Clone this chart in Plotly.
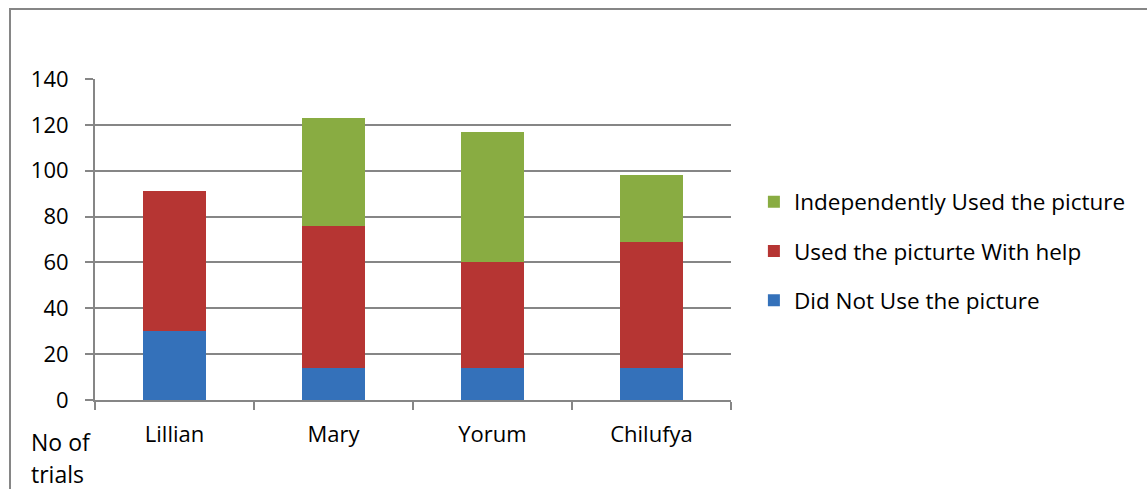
import plotly.graph_objects as go

students = ["Lillian", "Mary", "Yorum", "Chilufya"]
did_not_use = [30, 14, 14, 14]
used_with_help = [61, 62, 46, 55]
independently_used = [0, 47, 57, 29]

series_names = ["Did Not Use the picture", "Used the picturte With help", "Independently Used the picture"]
series_values = [did_not_use, used_with_help, independently_used]
series_colors = ["#3471BA", "#B63533", "#89AC42"]
legend_ranks = [3000, 2000, 1000]

FONT = "Open Sans, Noto Sans, sans-serif"
FS = 22

fig = go.Figure()
for name, vals, col, rank in zip(series_names, series_values, series_colors, legend_ranks):
    fig.add_trace(go.Bar(
        x=students, y=vals, name=name,
        marker=dict(color=col, line=dict(width=0)),
        width=0.4, legendgroup=name, legendrank=rank,
    ))

fig.update_layout(
    barmode="stack",
    width=1147, height=489,
    margin=dict(l=95, r=416, t=79, b=89),
    paper_bgcolor="white", plot_bgcolor="white",
    font=dict(family=FONT, size=FS, color="#000000"),
    showlegend=True,
    legend=dict(
        x=1.036, y=0.464, xanchor="left", yanchor="middle",
        traceorder="grouped", tracegroupgap=17,
        font=dict(size=FS + 0.5), itemwidth=30,
    ),
    xaxis=dict(
        showgrid=False, showline=True, linecolor="#868686", linewidth=2,
        ticks="outside", tickson="boundaries", ticklen=8, tickcolor="#868686", tickwidth=2,
        tickfont=dict(size=FS), ticklabelstandoff=14,
    ),
    yaxis=dict(
        range=[0, 140], dtick=20, showgrid=True, gridcolor="#868686", gridwidth=2,
        showline=True, linecolor="#868686", linewidth=2,
        ticks="outside", ticklen=8, tickcolor="#868686", tickwidth=2,
        tickfont=dict(size=FS), zeroline=False, ticklabelstandoff=12,
    ),
    shapes=[dict(
        type="rect", xref="paper", yref="paper",
        x0=-85/636, x1=(1160-95)/636, y0=-(500-400)/321, y1=(400-9)/321,
        line=dict(color="#868686", width=2), fillcolor="rgba(0,0,0,0)", layer="below",
    )],
    annotations=[
        dict(text="No of", xref="paper", yref="paper",
             x=-66/636, y=-(442-400)/321, xanchor="left", yanchor="middle",
             showarrow=False, align="left", font=dict(size=FS + 1)),
        dict(text="trials", xref="paper", yref="paper",
             x=-66/636, y=-(474-400)/321, xanchor="left", yanchor="middle",
             showarrow=False, align="left", font=dict(size=FS + 1)),
    ],
)

fig.write_html("out.html")
